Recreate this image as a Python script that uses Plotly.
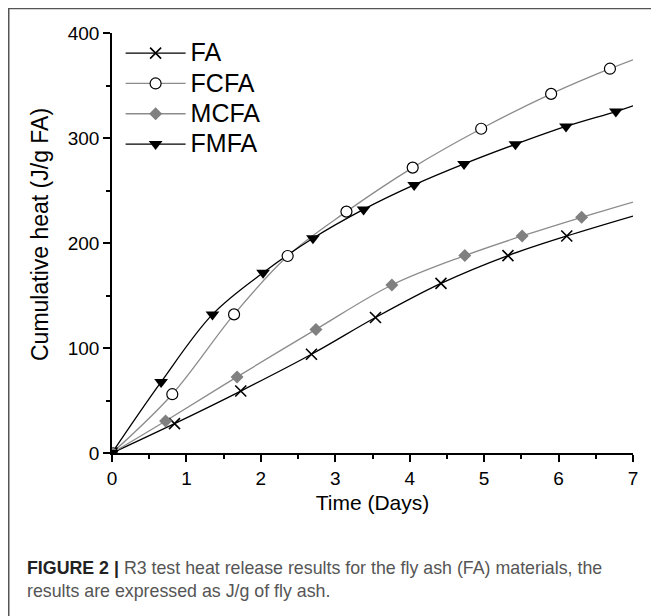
import plotly.graph_objects as go

# ---- data ----
series_names = ["FA", "FCFA", "MCFA", "FMFA"]

fa_x = [0, 0.84, 1.73, 2.68, 3.54, 4.42, 5.32, 6.11]
fa_y = [0, 28, 59, 94, 129, 161.5, 188, 206.7]
fa_end = 225.7

fcfa_x = [0, 0.81, 1.64, 2.36, 3.15, 4.04, 4.96, 5.90, 6.69]
fcfa_y = [0, 56, 132, 187.6, 229.9, 271.8, 308.8, 342, 366]
fcfa_end = 374.5

mcfa_x = [0, 0.72, 1.68, 2.74, 3.76, 4.74, 5.51, 6.31]
mcfa_y = [0, 30.5, 72.5, 117.7, 160, 188, 206.7, 224.5]
mcfa_end = 239

fmfa_x = [0, 0.66, 1.35, 2.03, 2.70, 3.38, 4.06, 4.73, 5.42, 6.10, 6.77]
fmfa_y = [0, 67.7, 132, 171.7, 204.5, 232, 255.3, 275.3, 294, 311, 325.2]
fmfa_end = 330.7

x_end = 7

x_ticks = [0, 1, 2, 3, 4, 5, 6, 7]
y_ticks = [0, 100, 200, 300, 400]

styles = {
    "FA": dict(line="#000000", symbol="x-thin-open", size=11, fill="#000000"),
    "FCFA": dict(line="#8c8c8c", symbol="circle-open", size=11, fill="#ffffff"),
    "MCFA": dict(line="#8c8c8c", symbol="diamond", size=10, fill="#808080"),
    "FMFA": dict(line="#000000", symbol="triangle-down", size=12, fill="#000000"),
}

data = {
    "FA": (fa_x, fa_y, fa_end),
    "FCFA": (fcfa_x, fcfa_y, fcfa_end),
    "MCFA": (mcfa_x, mcfa_y, mcfa_end),
    "FMFA": (fmfa_x, fmfa_y, fmfa_end),
}

# page body has an 8px default margin: the figure is offset by 8px
OFF = 8
W, H = 659 - OFF, 616 - OFF
PL, PR, PT, PB = 112, 633, 33.3, 452.7   # plot area in page pixels
pw, ph = PR - PL, PB - PT

def px(xp):
    return (xp - PL) / pw

def py(yp):
    return (PB - yp) / ph

fig = go.Figure()

for name in series_names:
    xs, ys, yend = data[name]
    st = styles[name]
    fig.add_trace(go.Scatter(
        x=xs + [x_end], y=ys + [yend], mode="lines",
        line=dict(color=st["line"], width=1.3, shape="spline", smoothing=1.0),
        showlegend=False, hoverinfo="skip"))

for name in series_names:
    xs, ys, yend = data[name]
    st = styles[name]
    if st["symbol"] == "circle-open":
        marker = dict(symbol="circle", size=st["size"], color="#ffffff",
                      line=dict(color="#000000", width=1.2))
    elif st["symbol"] == "x-thin-open":
        marker = dict(symbol="x-thin-open", size=st["size"], color="#000000",
                      line=dict(color="#000000", width=1.6))
    else:
        marker = dict(symbol=st["symbol"], size=st["size"], color=st["fill"],
                      line=dict(width=0))
    fig.add_trace(go.Scatter(x=xs, y=ys, mode="markers", marker=marker,
                             showlegend=False))
    fig.add_trace(go.Scatter(x=[None], y=[None], mode="lines+markers",
                             name="<span style='font-size:25px'>%s</span>" % name,
                             marker=marker,
                             line=dict(color=st["line"], width=1.3)))

fig.update_layout(
    width=W, height=H,
    margin=dict(l=PL - OFF, r=W - (PR - OFF), t=PT - OFF, b=H - (PB - OFF), autoexpand=False),
    paper_bgcolor="white", plot_bgcolor="white",
    font=dict(family="Liberation Sans, Arial, sans-serif", color="#000000"),
    showlegend=True,
    legend=dict(x=px(120.6), y=1.0, xanchor="left", yanchor="top",
                font=dict(size=21, color="#000000"),
                bgcolor="rgba(0,0,0,0)", itemwidth=60, tracegroupgap=0),
    xaxis=dict(range=[0, 7], tickvals=x_ticks, showline=True, linecolor="black",
               linewidth=1.5, ticks="outside", ticklen=7, tickwidth=1.5,
               tickcolor="black", showgrid=False, zeroline=False,
               tickfont=dict(size=19), automargin=False,
               minor=dict(dtick=0.5, ticks="outside", ticklen=4, tickwidth=1.5,
                          tickcolor="black", showgrid=False),
               title=dict(text="Time (Days)", font=dict(size=21), standoff=8)),
    yaxis=dict(range=[0, 400], tickvals=y_ticks, showline=True, linecolor="black",
               linewidth=1.5, ticks="outside", ticklen=7, tickwidth=1.5,
               tickcolor="black", showgrid=False, zeroline=False,
               tickfont=dict(size=19), automargin=False,
               minor=dict(dtick=50, ticks="outside", ticklen=4, tickwidth=1.5,
                          tickcolor="black", showgrid=False)),
)

# y-axis title
fig.add_annotation(
    xref="paper", yref="paper", x=px(40), y=py(235),
    xanchor="center", yanchor="middle", showarrow=False, textangle=-90,
    text="Cumulative heat (J/g FA)", font=dict(size=23, color="#000000"))

# frame lines (top and left) of the figure panel
fig.add_shape(type="line", xref="paper", yref="paper",
              x0=px(8), x1=px(680), y0=py(8.5), y1=py(8.5),
              line=dict(color="#555555", width=2))
fig.add_shape(type="line", xref="paper", yref="paper",
              x0=px(8.5), x1=px(8.5), y0=py(8), y1=py(640),
              line=dict(color="#555555", width=2))

fig.add_annotation(
    xref="paper", yref="paper", x=px(25), y=py(556),
    xanchor="left", yanchor="top", align="left", showarrow=False,
    text="<b>FIGURE 2 |</b> <span style='color:#555555'>R3 test heat release results for the fly ash (FA) materials, the<br>results are expressed as J/g of fly ash.</span>",
    font=dict(size=17.8, color="#222222", family="Liberation Sans, Arial, sans-serif"))

fig.write_html("out.html")
